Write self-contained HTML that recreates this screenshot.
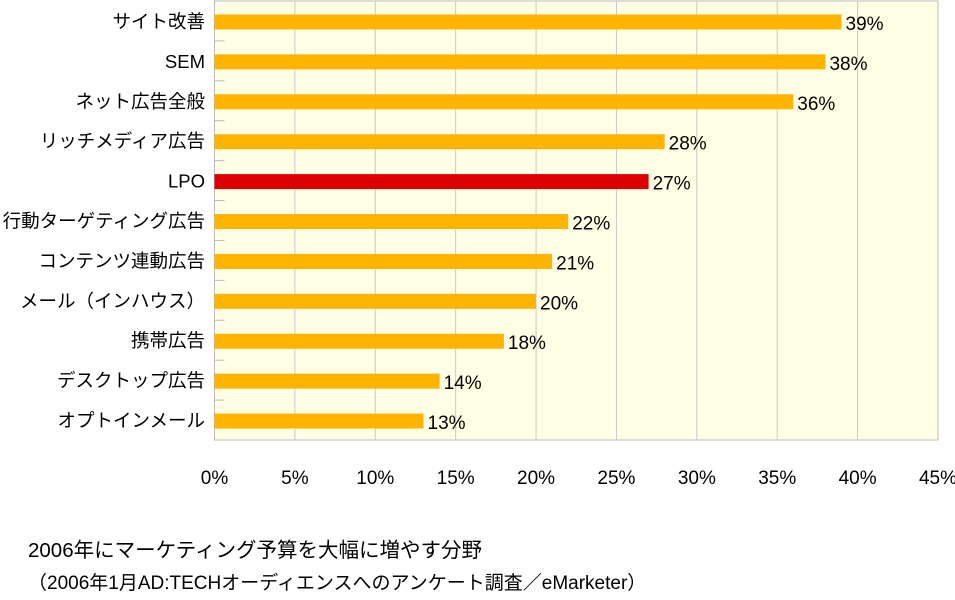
<!DOCTYPE html>
<html><head><meta charset="utf-8"><style>
body{margin:0;background:#fff;width:955px;height:599px;overflow:hidden;font-family:"Liberation Sans","Noto Sans CJK JP",sans-serif}
</style></head><body>
<svg id="c" width="955" height="599" style="position:absolute;left:0;top:0"></svg>
<div style="position:absolute;left:28px;top:534px;line-height:33px;color:#000">
<div style="font-size:20.5px">2006年にマーケティング予算を大幅に増やす分野</div>
<div style="font-size:19px">（2006年1月AD:TECHオーディエンスへのアンケート調査／eMarketer）</div>
</div>
<script>
const categories=["サイト改善","SEM","ネット広告全般","リッチメディア広告","LPO","行動ターゲティング広告","コンテンツ連動広告","メール（インハウス）","携帯広告","デスクトップ広告","オプトインメール"];
const values=[39,38,36,28,27,22,21,20,18,14,13];
const highlight=["LPO"];
const xTicks=[0,5,10,15,20,25,30,35,40,45];
const NS="http://www.w3.org/2000/svg";
const svg=document.getElementById('c');
const L=214.5,R=938,T=1,B=440,max=45;
const x=v=>L+(R-L)*v/max;
const band=(B-T)/categories.length;
const y=i=>T+band*i;
function mk(t,a){const e=document.createElementNS(NS,t);for(const k in a)e.setAttribute(k,a[k]);svg.appendChild(e);return e;}
let bg=mk('rect',{x:L,y:T,width:R-L,height:B-T,fill:'#FFFFE6',stroke:'#bbb'});


xTicks.forEach(t=>{
  if(t>0&&t<max){const g=mk('line',{x1:x(t),x2:x(t),y1:T,y2:B,stroke:'#c8c8c8'});
  
  }
  const tx=mk('text',{x:x(t),y:484,'font-size':19,'text-anchor':'middle',fill:'#000'});
  
  
  tx.textContent=t+'%';
});
categories.forEach((c,i)=>{
  if(i>0){const tk=mk('line',{x1:L,x2:L+10,y1:y(i),y2:y(i),stroke:'#bbb'});
  
  }
  const cy=y(i)+band/2+1;
  const b=mk('rect',{x:L,y:cy-7.5,width:x(values[i])-L,height:15,fill:highlight.includes(c)?'#DD0000':'#FFB400'});
  
  
  const lb=mk('text',{x:205,y:cy+6,'font-size':18.5,'text-anchor':'end',fill:'#000'});
  
  
  lb.textContent=c;
  const vl=mk('text',{x:x(values[i])+4,y:cy+8,'font-size':19,fill:'#000'});
  
  
  vl.textContent=values[i]+'%';
});
</script>
</body></html>
